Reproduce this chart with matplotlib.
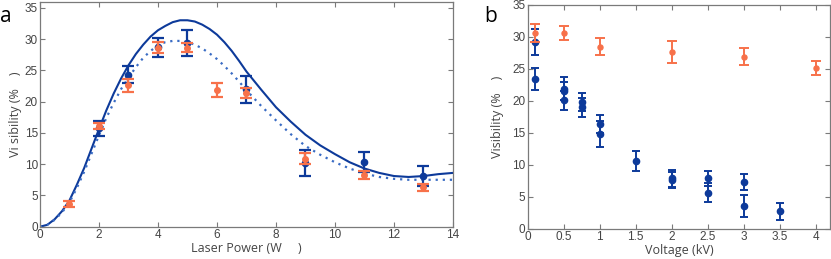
import matplotlib
matplotlib.use("Agg")
import matplotlib.pyplot as plt

# ---- panel a: visibility vs laser power ----
a_blue_x = [2, 3, 4, 5, 7, 9, 11, 13]
a_blue_y = [15.7, 24.3, 28.7, 29.35, 21.95, 10.2, 10.3, 8.15]
a_blue_err = [1.2, 1.35, 1.5, 2.05, 2.15, 2.1, 1.6, 1.6]

a_orange_x = [1, 2, 3, 4, 5, 6, 7, 9, 11, 13]
a_orange_y = [3.6, 16.1, 22.6, 28.6, 28.6, 21.8, 21.4, 10.9, 8.25, 6.3]
a_orange_err = [0.45, 0.45, 1.05, 0.9, 0.7, 1.1, 0.85, 0.85, 0.65, 0.6]

# model curves
curve_x = [0, 0.25, 0.5, 0.75, 1, 1.25, 1.5, 1.75, 2, 2.25, 2.5, 2.75, 3,
           3.25, 3.5, 3.75, 4, 4.25, 4.5, 4.75, 5, 5.25, 5.5, 5.75, 6, 6.25,
           6.5, 6.75, 7, 7.5, 8, 8.5, 9, 9.5, 10, 10.5, 11, 11.5, 12, 12.5,
           13, 13.5, 14]
solid_y = [0, 0.3, 1.2, 2.5, 4.2, 6.7, 9.4, 12.5, 15.6, 18.6, 21.3, 23.7,
           25.8, 27.6, 29.1, 30.4, 31.4, 32.1, 32.7, 33.0, 33.0, 32.8, 32.3,
           31.6, 30.7, 29.5, 28.1, 26.5, 24.8, 21.9, 19.1, 16.8, 14.7, 13.0,
           11.6, 10.3, 9.3, 8.6, 8.1, 7.95, 8.1, 8.4, 8.6]
dotted_y = [0, 0.3, 1.1, 2.3, 3.9, 6.2, 8.8, 11.7, 14.6, 17.4, 19.8, 22.0,
            23.8, 25.5, 27.0, 28.1, 29.0, 29.5, 29.7, 29.7, 29.5, 29.1, 28.5,
            27.7, 26.8, 25.7, 24.5, 23.2, 21.8, 19.3, 17.0, 14.8, 12.9, 11.5,
            10.3, 9.3, 8.5, 7.95, 7.65, 7.5, 7.5, 7.5, 7.5]

# ---- panel b: visibility vs voltage ----
b_blue_x = [0.1, 0.1, 0.5, 0.5, 0.5, 0.75, 0.75, 1, 1, 1.5, 2, 2, 2.5, 2.5, 3, 3, 3.5]
b_blue_y = [29.2, 23.4, 21.9, 21.5, 20.1, 19.8, 19.0, 16.4, 14.8, 10.6, 7.9, 7.6,
            7.9, 5.6, 7.3, 3.6, 2.7]
b_blue_err = [2.1, 1.7, 1.8, 1.4, 1.5, 1.4, 1.5, 1.4, 2.0, 1.5, 1.3, 1.2,
              1.2, 1.5, 1.2, 1.7, 1.35]

b_orange_x = [0.1, 0.5, 1, 2, 3, 4]
b_orange_y = [30.6, 30.6, 28.5, 27.6, 26.9, 25.2]
b_orange_err = [1.4, 1.15, 1.3, 1.7, 1.35, 1.1]

blue = "#0d3a9a"
light_blue = "#3a6cc4"
orange = "#f7714a"
grey = "#444444"

plt.rcParams["font.family"] = "Liberation Sans"

fig = plt.figure(figsize=(8.31, 2.59), dpi=100)
ax1 = fig.add_axes([0.0481, 0.1247, 0.4970, 0.8695])
ax2 = fig.add_axes([0.6350, 0.1170, 0.3638, 0.8637])


def style(ax):
    for s in ax.spines.values():
        s.set_color("#7a7a7a")
        s.set_linewidth(0.9)
    ax.tick_params(direction="in", top=True, right=True, length=3.5,
                   width=0.8, color="#7a7a7a", labelsize=8.5,
                   labelcolor=grey, pad=1.5)


# panel a
ax1.plot(curve_x, solid_y, color=blue, lw=1.5, zorder=2)
ax1.plot(curve_x, dotted_y, color=light_blue, lw=1.6, ls=(0, (1, 2.2)), zorder=2)
ax1.errorbar(a_blue_x, a_blue_y, yerr=a_blue_err, fmt="o", color=blue, ms=4.5,
             elinewidth=1.6, capsize=4, capthick=1.6, zorder=3)
ax1.errorbar(a_orange_x, a_orange_y, yerr=a_orange_err, fmt="o", color=orange,
             ms=4, elinewidth=1.6, capsize=4, capthick=1.6, zorder=4)
ax1.set_xlim(0, 14)
ax1.set_ylim(0, 36)
ax1.set_xticks(range(0, 15, 2))
ax1.set_yticks(range(0, 36, 5))
ax1.set_xlabel("Laser Power (W     )", family="Open Sans", fontsize=9,
               color=grey, labelpad=1)
ax1.set_ylabel("Vi sibility (%    )", family="Open Sans", fontsize=9,
               color=grey, labelpad=2)
style(ax1)

# panel b
ax2.errorbar(b_blue_x, b_blue_y, yerr=b_blue_err, fmt="o", color=blue, ms=4.5,
             elinewidth=1.4, capsize=3, capthick=1.4, zorder=3)
ax2.errorbar(b_orange_x, b_orange_y, yerr=b_orange_err, fmt="o", color=orange,
             ms=3.6, elinewidth=1.4, capsize=3.5, capthick=1.4, zorder=4)
ax2.set_xlim(0, 4.2)
ax2.set_ylim(0, 35)
ax2.set_xticks([0, 0.5, 1, 1.5, 2, 2.5, 3, 3.5, 4])
ax2.set_xticklabels(["0", "0.5", "1", "1.5", "2", "2.5", "3", "3.5", "4"])
ax2.set_yticks(range(0, 36, 5))
ax2.set_xlabel("Voltage (kV)", family="Open Sans", fontsize=9, color=grey,
               labelpad=1)
ax2.set_ylabel("Visibility (%    )", family="Open Sans", fontsize=9,
               color=grey, labelpad=6)
style(ax2)

fig.text(0.0, 0.935, "a", fontsize=15, family="Open Sans", va="center")
fig.text(0.583, 0.935, "b", fontsize=15, family="Open Sans", va="center")

fig.savefig("out.png", dpi=100)
